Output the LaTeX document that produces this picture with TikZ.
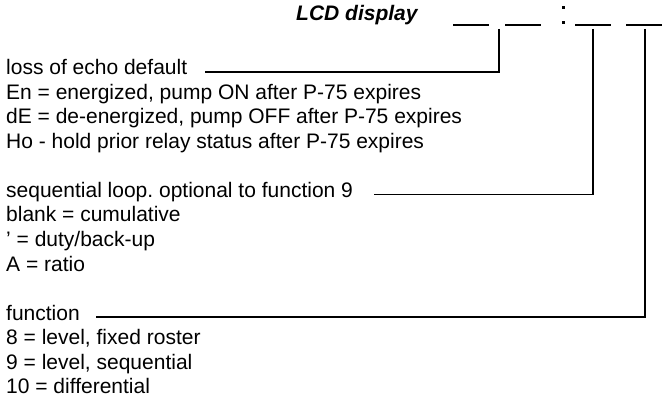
\documentclass[tikz,border=0pt]{standalone}
\usepackage{fontspec}
\setmainfont{Liberation Sans}
\usetikzlibrary{positioning,calc}
\frenchspacing

\begin{document}
\begin{tikzpicture}[x=1pt,y=-1pt,
  txt/.style={anchor=base west,inner sep=0pt,font=\fontsize{21}{24.5}\selectfont},
  lead/.style={line width=1.6pt},
  slot/.style={line width=1.8pt}]
\useasboundingbox (0,0) rectangle (662,401);
% Title
\node[txt,font=\fontsize{21}{24}\selectfont\bfseries\itshape] (title) at (296,21) {LCD display};
% Display slots and colon
\foreach \x in {453,505,575,626} {
  \draw[slot] (\x,25) -- ++(36,0);
}
\fill (561.5,6.5) rectangle ++(3,3);
\fill (561.5,21.5) rectangle ++(3,3);
\coordinate (c1) at (499,29);
\coordinate (c2) at (593,29);
\coordinate (c3) at (645,29);
% loss of echo default
\node[txt] (loss) at (6,75) {loss of echo default};
\foreach \t [count=\i] in {{En = energized, pump ON after P-75 expires},
    {dE = de-energized, pump OFF after P-75 expires},
    {Ho - hold prior relay status after P-75 expires}} {
  \node[txt] (echo\i) at ($(loss.base west)+(0,24.5*\i)$) {\t};
}
\draw[lead] (c1) |- ([xshift=18pt,yshift=3pt]loss.base east);
% sequential loop
\node[txt] (seq) at (6,197.5) {sequential loop. optional to function 9};
\foreach \t [count=\i] in {{blank = cumulative},{' = duty/back-up},{A = ratio}} {
  \node[txt] (loop\i) at ($(seq.base west)+(0,24.5*\i)$) {\t};
}
\draw[lead] (c2) |- ([xshift=21pt,yshift=3pt]seq.base east);
% function
\node[txt] (fun) at (6,320) {function};
\foreach \t [count=\i] in {{8 = level, fixed roster},{9 = level, sequential},{10 = differential}} {
  \node[txt] (func\i) at ($(fun.base west)+(0,24.5*\i)$) {\t};
}
\draw[lead] (c3) |- ([xshift=16pt,yshift=3pt]fun.base east);
\end{tikzpicture}
\end{document}
